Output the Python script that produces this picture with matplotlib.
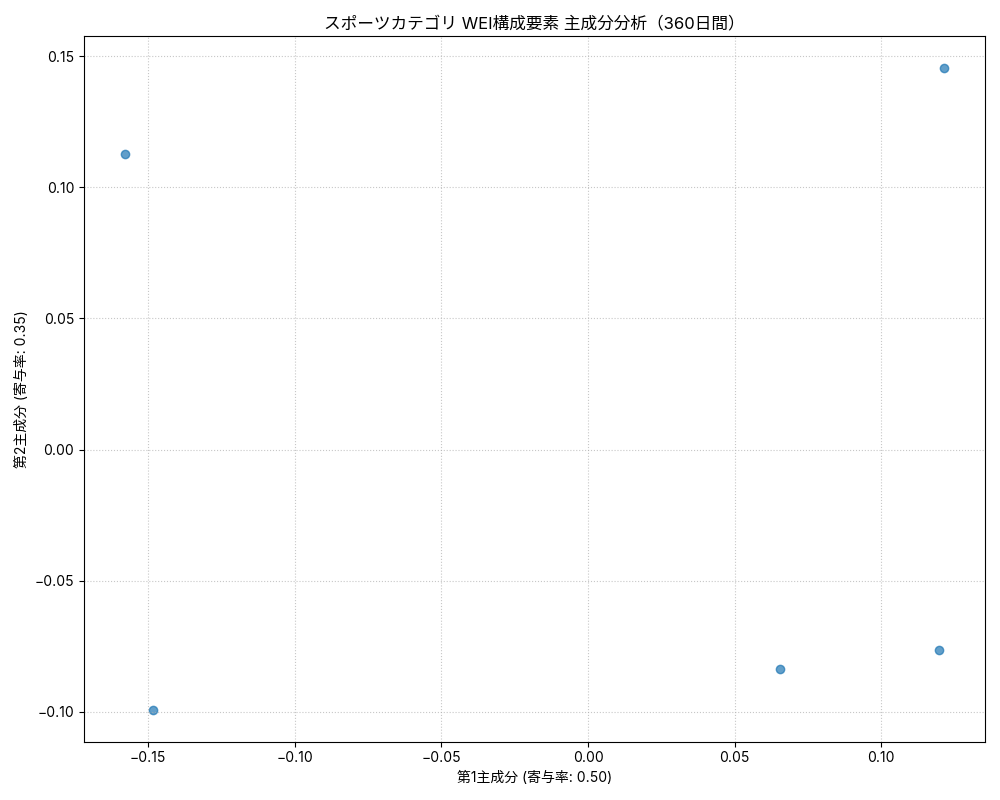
import matplotlib
matplotlib.use('Agg')
import matplotlib.pyplot as plt

plt.rcParams['font.family'] = ['Inter', 'Noto Sans CJK JP', 'DejaVu Sans']

# principal component scores
pc1 = [0.1214, -0.1579, -0.1484, 0.0655, 0.1197]
pc2 = [0.1454, 0.1126, -0.0992, -0.0836, -0.0763]

ratio1 = 0.50
ratio2 = 0.35

title = 'スポーツカテゴリ WEI構成要素 主成分分析（360日間）'


fig = plt.figure(figsize=(10, 8), dpi=100)
ax = fig.add_subplot()

ax.scatter(pc1, pc2, alpha=0.7)
ax.set_title(title)
ax.set_xlabel(f'第1主成分 (寄与率: {ratio1:.2f})')
ax.set_ylabel(f'第2主成分 (寄与率: {ratio2:.2f})')
ax.grid(True, linestyle=':', alpha=0.7)

plt.tight_layout()
fig.savefig('out.png')
